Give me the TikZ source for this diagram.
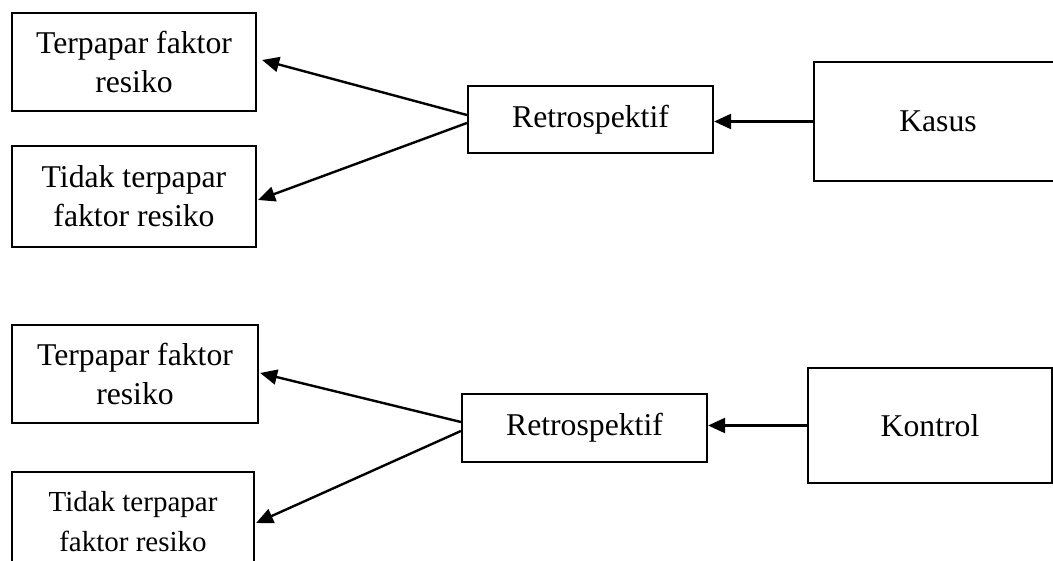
\documentclass[tikz,border=0pt]{standalone}
\usepackage{fontspec}
\setmainfont{Liberation Serif}
\usetikzlibrary{arrows.meta}
\begin{document}
\begin{tikzpicture}[x=1pt,y=-1pt,
  box/.style={draw,line width=2.2pt,inner sep=0pt,align=center,font=\fontsize{31.7}{39}\selectfont},
  smallbox/.style={box,font=\fontsize{29}{40}\selectfont},
  arr/.style={line width=2.4pt,-{Triangle[length=17pt,width=15pt]}}]
\useasboundingbox (0,0) rectangle (1053,561);
% top group
\node[box,minimum width=244pt,minimum height=98pt] (b1) at (134,62) {Terpapar faktor\\resiko};
\node[box,minimum width=244pt,minimum height=101pt] (b2) at (134,196.5) {Tidak terpapar\\faktor resiko};
\node[box,minimum width=245pt,minimum height=67pt] (r1) at (590.5,119.5) {Retrospektif};
\node[box,minimum width=248pt,minimum height=119pt] (k) at (938,121.5) {Kasus};
% bottom group
\node[box,minimum width=246pt,minimum height=98pt] (b3) at (135,374) {Terpapar faktor\\resiko};
\node[smallbox,minimum width=242pt,minimum height=100pt] (b4) at (133,522) {Tidak terpapar\\faktor resiko};
\node[box,minimum width=245pt,minimum height=68pt] (r2) at (584.5,428) {Retrospektif};
\node[box,minimum width=244pt,minimum height=115pt] (c) at (930,425.5) {Kontrol};
% connectors
\draw[arr] ([yshift=4.5pt]r1.west) -- ([xshift=5pt,yshift=2pt]b1.east);
\draw[arr] ([yshift=-3.5pt]r1.west) -- ([xshift=1pt,yshift=-3.5pt]b2.east);
\draw[arr] (k.west) -- (k.west -| r1.east);
\draw[arr] ([yshift=6pt]r2.west) -- ([xshift=1pt,yshift=1pt]b3.east);
\draw[arr] ([yshift=-3pt]r2.west) -- ([xshift=1pt,yshift=-1pt]b4.east);
\draw[arr] (c.west) -- (c.west -| r2.east);
\end{tikzpicture}
\end{document}
